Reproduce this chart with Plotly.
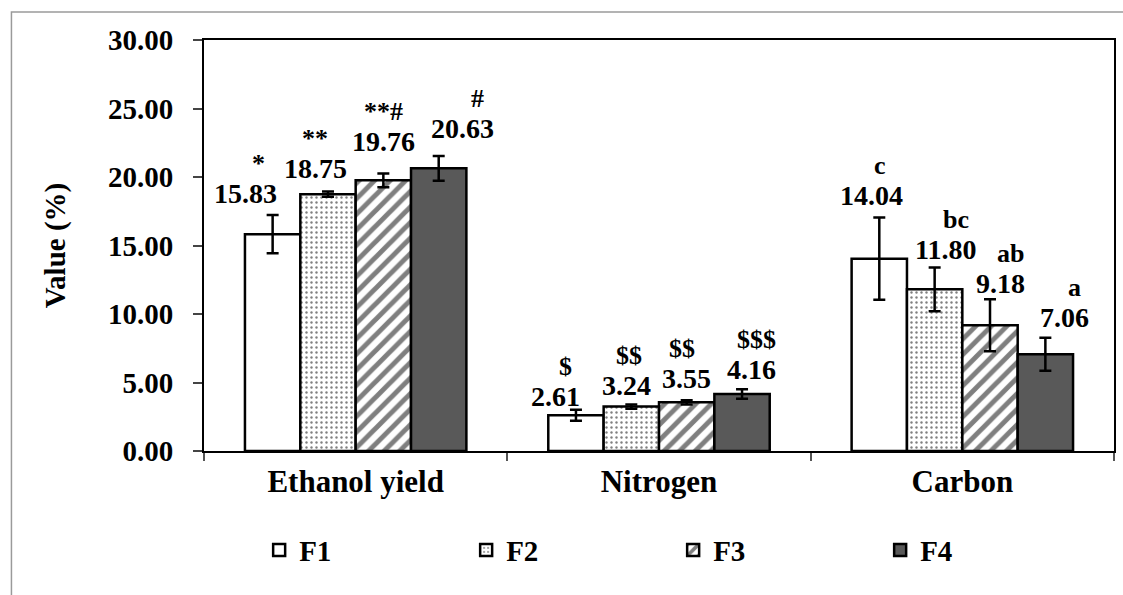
import plotly.graph_objects as go

# ---- data -------------------------------------------------------------
categories = ["Ethanol yield", "Nitrogen", "Carbon"]
series_names = ["F1", "F2", "F3", "F4"]

F1 = [15.83, 2.61, 14.04]
F2 = [18.75, 3.24, 11.80]
F3 = [19.76, 3.55, 9.18]
F4 = [20.63, 4.16, 7.06]

err_F1 = [1.40, 0.40, 3.00]
err_F2 = [0.20, 0.15, 1.60]
err_F3 = [0.50, 0.15, 1.90]
err_F4 = [0.90, 0.35, 1.20]

sig_F1 = ["*", "$", "c"]
sig_F2 = ["**", "$$", "bc"]
sig_F3 = ["**#", "$$", "ab"]
sig_F4 = ["#", "$$$", "a"]

y_ticks = [0, 5, 10, 15, 20, 25, 30]

values = [F1, F2, F3, F4]
errors = [err_F1, err_F2, err_F3, err_F4]
sigs = [sig_F1, sig_F2, sig_F3, sig_F4]

# ---- styles -----------------------------------------------------------
FONT = "Liberation Serif, Times New Roman, serif"
BARGAP = 0.27
n_series = len(series_names)
bar_w = (1 - BARGAP) / n_series

fills = [
    dict(color="white"),
    dict(color="white", pattern=dict(shape=".", fgcolor="black", bgcolor="white",
                                     size=5, solidity=0.18, fillmode="overlay")),
    dict(color="white", pattern=dict(shape="/", fgcolor="black", bgcolor="white",
                                     size=11, solidity=0.45, fillmode="overlay")),
    dict(color="#595959"),
]

# label offsets (pixels) relative to the bar centre / error-bar top
val_dx = [[-27, -20, -8], [-12, -5, 11], [0, 0, 10], [24, 9, 19]]
val_dy = [[21, 13, 22], [23, 19, 18], [32, 22, 16], [28, 20, 20]]
sig_dx = [[-14, -10, 1], [-13, -2, 21], [0, -5, 20], [39, 14, 29]]
SIG_GAP = 30

fig = go.Figure()
x_idx = list(range(len(categories)))

for j, name in enumerate(series_names):
    fig.add_trace(go.Bar(
        name=name,
        x=x_idx,
        y=values[j],
        marker=dict(**fills[j], line=dict(color="black", width=2.5)),
        error_y=dict(type="data", array=errors[j], symmetric=True,
                     color="black", thickness=2.5, width=6),
    ))

annotations = []
for j in range(n_series):
    for i in x_idx:
        xc = i + (j - (n_series - 1) / 2) * bar_w
        top = values[j][i] + errors[j][i]
        annotations.append(dict(
            x=xc, y=top, xref="x", yref="y", text=f"{values[j][i]:.2f}",
            showarrow=False, xanchor="center", yanchor="middle",
            xshift=val_dx[j][i], yshift=val_dy[j][i],
            font=dict(family=FONT, size=28, color="black", weight="bold"),
        ))
        annotations.append(dict(
            x=xc, y=top, xref="x", yref="y",
            text=sigs[j][i].replace("$", "&#36;"),
            showarrow=False, xanchor="center", yanchor="middle",
            xshift=sig_dx[j][i], yshift=val_dy[j][i] + SIG_GAP,
            font=dict(family=FONT, size=26, color="black", weight="bold"),
        ))

# y-axis title
annotations.append(dict(
    x=-0.163, y=0.5, xref="paper", yref="paper", text="Value (%)",
    textangle=-90, showarrow=False, xanchor="center", yanchor="middle",
    font=dict(family=FONT, size=29, color="black", weight="bold"),
))

fig.update_layout(
    width=1123, height=595,
    margin=dict(l=204, r=7, t=40, b=144),
    paper_bgcolor="white", plot_bgcolor="white",
    barmode="group", bargap=BARGAP, bargroupgap=0,
    annotations=annotations,
    showlegend=True,
    legend=dict(
        orientation="h", x=0.0606, y=-0.241, xanchor="left", yanchor="middle",
        font=dict(family=FONT, size=29, color="black", weight="bold"),
        entrywidth=162, entrywidthmode="pixels",
        bgcolor="rgba(0,0,0,0)", itemclick=False,
    ),
    shapes=[dict(
        type="rect", xref="paper", yref="paper",
        x0=-0.2116, x1=1.03, y0=-0.40, y1=1.068,
        line=dict(color="#9a9a9a", width=1.5), fillcolor="rgba(0,0,0,0)",
        layer="below",
    )],
)

fig.update_xaxes(
    range=[-0.5, len(categories) - 0.5],
    tickmode="array", tickvals=x_idx, ticktext=categories,
    ticks="", showgrid=False, zeroline=False,
    showline=True, linecolor="black", linewidth=2, mirror=True,
    ticklabelstandoff=2,
    tickfont=dict(family=FONT, size=31, color="black", weight="bold"),
    minor=dict(tickmode="array", tickvals=[-0.5, 0.5, 1.5, 2.5],
               ticks="outside", ticklen=8, tickwidth=1.5, tickcolor="#555"),
)

fig.update_yaxes(
    range=[0, 30], tickmode="array", tickvals=y_ticks, tickformat=".2f",
    ticks="outside", ticklen=9, tickwidth=1.5, tickcolor="#444",
    showgrid=False, zeroline=False,
    showline=True, linecolor="black", linewidth=2, mirror=True,
    ticklabelstandoff=14,
    tickfont=dict(family=FONT, size=29, color="black", weight="bold"),
)

fig.write_html("out.html")
